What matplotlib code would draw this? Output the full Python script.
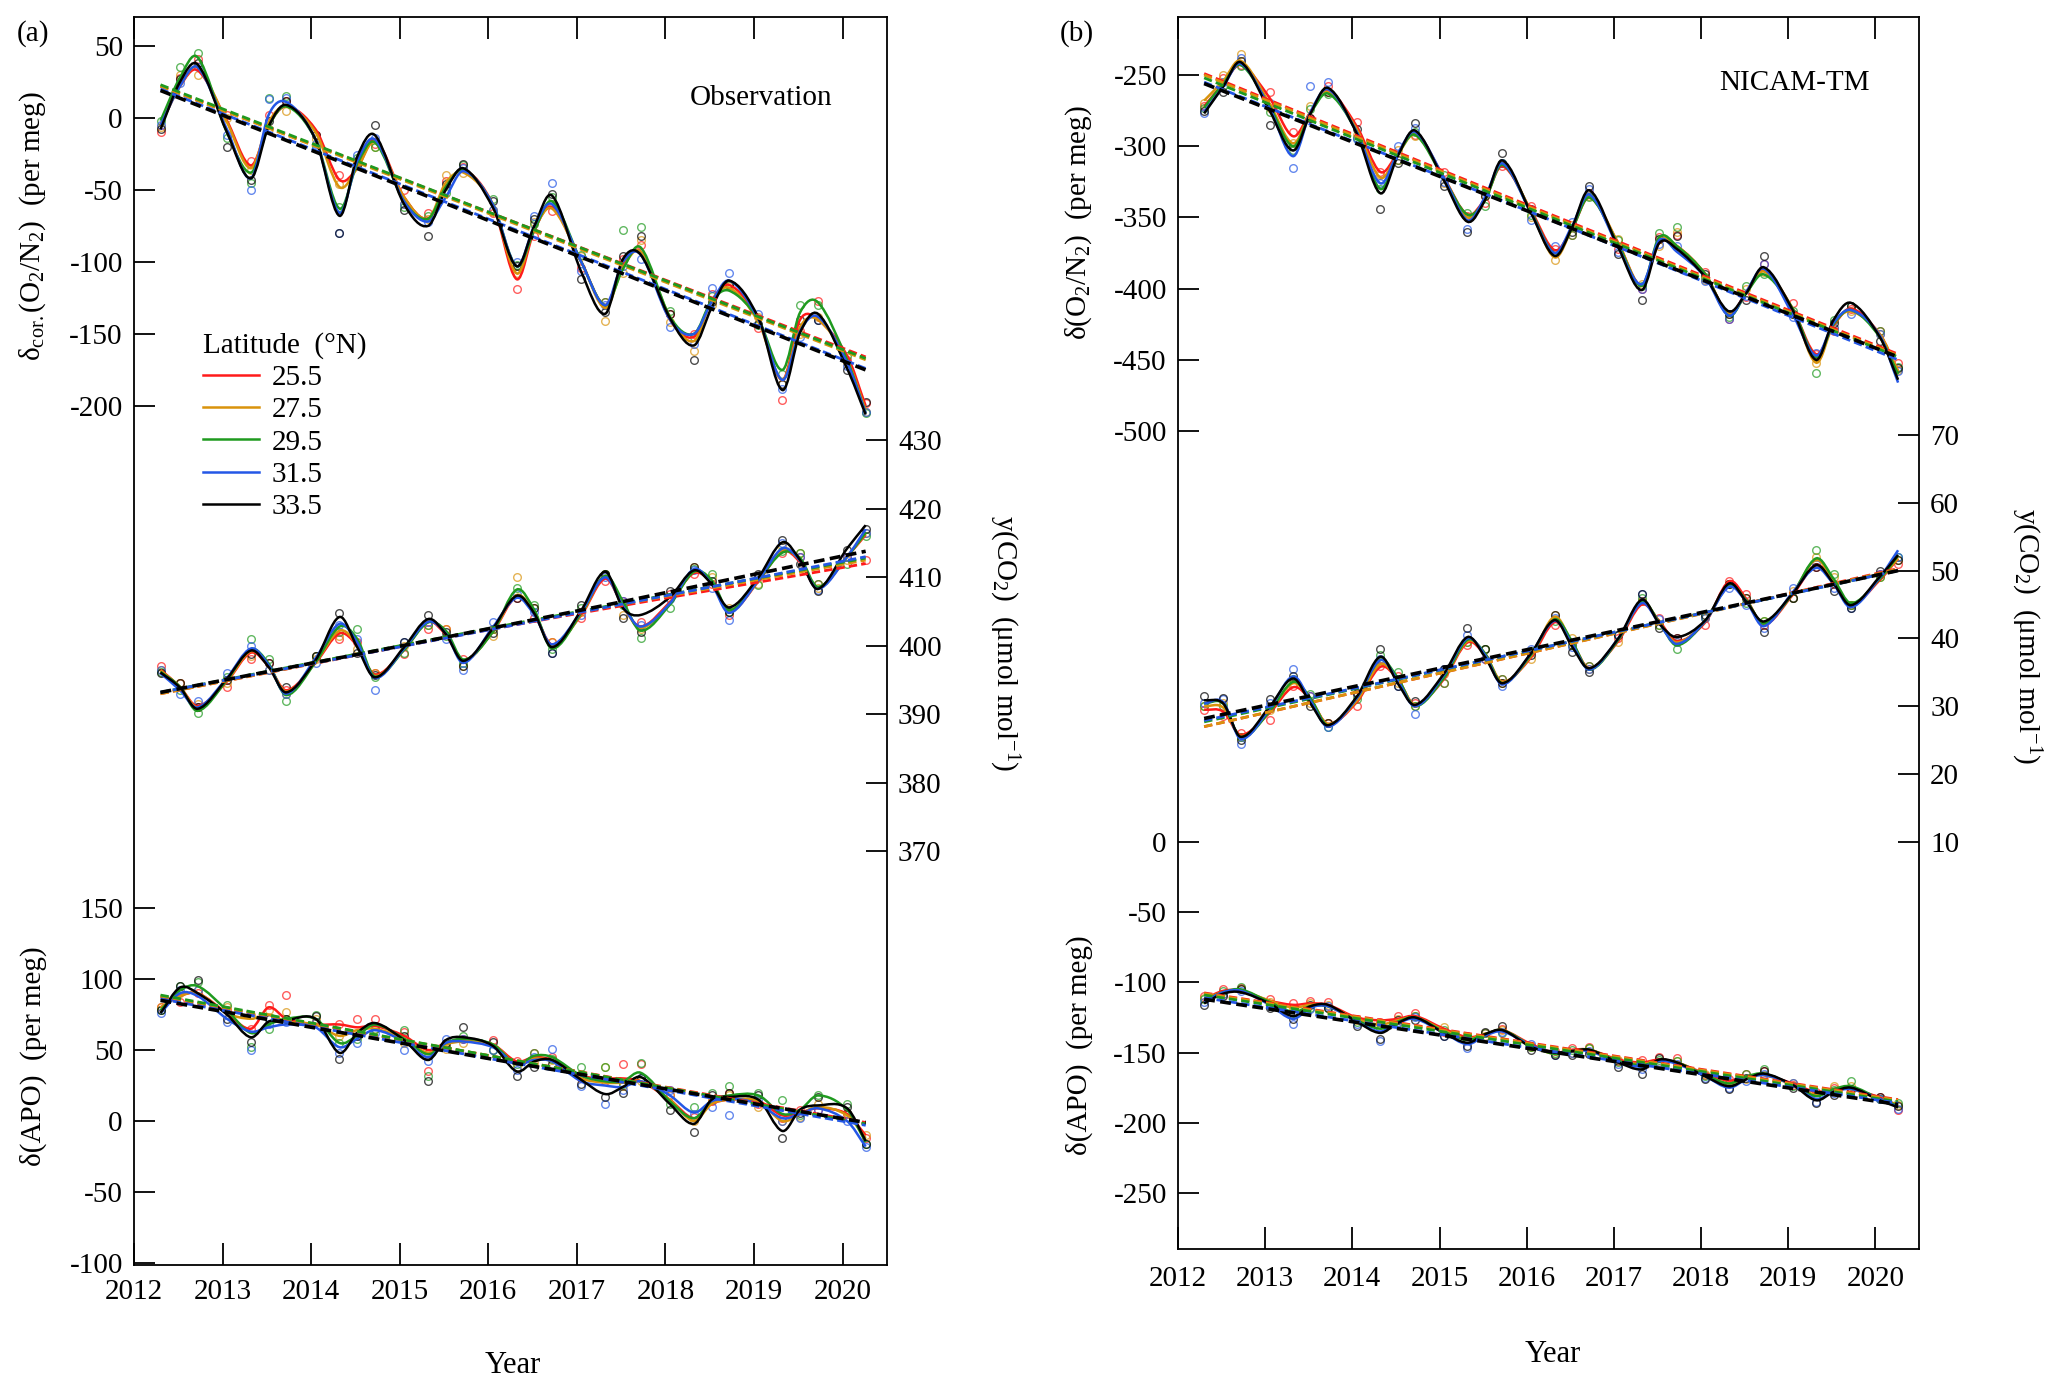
import numpy as np
import matplotlib
matplotlib.use("Agg")
import matplotlib.pyplot as plt
from matplotlib.path import Path
from matplotlib.patches import PathPatch
from matplotlib.lines import Line2D

plt.rcParams['font.family'] = ['Liberation Serif', 'DejaVu Serif']
plt.rcParams['mathtext.fontset'] = 'custom'
plt.rcParams['mathtext.rm'] = 'Liberation Serif'
plt.rcParams['mathtext.it'] = 'Liberation Serif:italic'
plt.rcParams['mathtext.bf'] = 'Liberation Serif:bold'
plt.rcParams['axes.unicode_minus'] = False

latitudes = ['25.5', '27.5', '29.5', '31.5', '33.5']
colors = ['#ff1a1a', '#d9930c', '#1f9a1f', '#2457e6', '#000000']

# knot times of the smooth fitted curves (decimal year)
t_knots = [2012.30, 2012.52, 2012.72,
           2013.05, 2013.32, 2013.52, 2013.72,
           2014.05, 2014.32, 2014.52, 2014.72,
           2015.05, 2015.32, 2015.52, 2015.72,
           2016.05, 2016.32, 2016.52, 2016.72,
           2017.05, 2017.32, 2017.52, 2017.72,
           2018.05, 2018.32, 2018.52, 2018.72,
           2019.05, 2019.32, 2019.52, 2019.72,
           2020.05, 2020.26]
# times of the plotted monthly values (circles)
t_obs = [2012.30, 2012.72, 2013.32, 2013.72, 2014.32, 2014.72, 2015.32, 2015.72,
         2016.32, 2016.72, 2017.32, 2017.72, 2018.32, 2018.72, 2019.32, 2019.72,
         2020.05, 2020.26]
t_obs_mid = [2012.52, 2013.05, 2013.52, 2014.05, 2014.52, 2015.05, 2015.52, 2016.05,
             2016.52, 2017.05, 2017.52, 2018.05, 2018.52, 2019.05, 2019.52]
# times of the long-term trend lines
t_trend = [2012.30, 2016.28, 2020.26]

# ---- (a) Observation ----
o2_obs_curve = [
    [-5, 22, 33, -2, -33, -5, 8, -8, -43, -35, -15, -55, -70, -48, -36, -60, -112, -78, -62, -100, -130, -102, -93, -140, -152, -127, -116, -140, -182, -140, -140, -165, -200],
    [-5, 22, 35, -3, -35, -3, 8, -10, -48, -35, -17, -55, -70, -45, -38, -60, -108, -77, -63, -100, -132, -104, -93, -138, -155, -127, -118, -142, -182, -145, -140, -168, -203],
    [-2, 28, 42, -10, -38, -6, 8, -15, -63, -32, -17, -58, -70, -48, -36, -60, -103, -78, -58, -100, -130, -105, -90, -138, -150, -127, -120, -140, -175, -135, -128, -168, -205],
    [-5, 22, 35, -8, -42, 2, 11, -15, -66, -30, -15, -58, -72, -55, -37, -60, -103, -75, -60, -100, -130, -100, -95, -140, -150, -128, -113, -140, -182, -148, -138, -170, -205],
    [-8, 25, 37, -10, -42, -6, 9, -15, -68, -27, -12, -60, -75, -50, -35, -62, -103, -75, -54, -107, -136, -98, -95, -139, -158, -132, -113, -139, -189, -149, -136, -174, -206],
]
o2_obs_points = [
    [-10, 41, -30, 12, -40, -18, -66, -34, -119, -65, -128, -88, -150, -115, -196, -127, -168, -198],
    [-6, 30, -36, 5, -46, -20, -70, -38, -108, -60, -141, -85, -162, -117, -185, -138, -170, -204],
    [-2, 45, -45, 15, -62, -20, -68, -33, -102, -55, -128, -76, -152, -116, -178, -130, -165, -205],
    [-5, 35, -50, 14, -80, -14, -72, -35, -100, -45, -130, -98, -157, -108, -188, -140, -172, -204],
    [-8, 38, -43, 12, -80, -5, -82, -32, -103, -53, -135, -82, -168, -115, -185, -140, -175, -197],
]
o2_obs_points_mid = [
    [28, 2, 2, -12, -30, -50, -44, -66, -82, -104, -98, -136, -122, -146, -148],
    [30, 0, -8, -15, -32, -60, -40, -64, -72, -96, -108, -142, -130, -138, -150],
    [35, -14, 14, -20, -28, -62, -52, -56, -74, -95, -78, -134, -124, -144, -130],
    [24, -12, 13, -18, -26, -60, -50, -64, -68, -106, -103, -145, -118, -136, -152],
    [27, -20, -2, -12, -33, -64, -46, -58, -70, -112, -96, -136, -128, -143, -140],
]
o2_obs_trend = [[22, -72, -166], [22, -73, -168], [23, -72, -167], [20, -77, -174], [19, -78, -175]]

co2_obs_curve = [
    [396.5, 394.0, 391.2, 394.8, 399.0, 397.0, 393.5, 397.5, 401.8, 400.0, 395.8, 399.4, 403.5, 401.6, 397.9, 402.0, 407.2, 404.6, 400.2, 404.5, 409.8, 405.8, 402.8, 406.4, 410.6, 409.2, 405.0, 409.4, 413.8, 412.2, 408.4, 413.0, 416.2],
    [396.4, 394.0, 391.0, 394.9, 399.2, 397.1, 393.3, 397.6, 402.2, 400.2, 395.6, 399.5, 403.6, 401.8, 397.8, 402.1, 407.4, 404.8, 400.0, 404.6, 410.2, 405.8, 402.6, 406.2, 410.8, 409.2, 405.0, 409.5, 414.0, 412.4, 408.4, 413.0, 416.4],
    [396.2, 394.0, 390.5, 395.0, 399.5, 397.4, 392.8, 397.6, 402.8, 401.0, 395.5, 399.4, 403.4, 402.2, 398.0, 402.0, 408.2, 405.2, 399.6, 404.8, 410.2, 406.5, 402.2, 406.0, 410.8, 409.6, 405.2, 409.6, 413.6, 412.8, 408.6, 413.0, 416.5],
    [396.0, 393.5, 391.0, 395.3, 399.6, 397.2, 393.0, 398.2, 403.2, 400.5, 395.3, 399.6, 403.5, 401.8, 397.5, 402.7, 407.0, 404.5, 400.2, 405.0, 410.0, 405.8, 402.8, 406.2, 411.2, 409.0, 404.8, 409.6, 414.2, 412.4, 408.3, 413.0, 417.0],
    [396.1, 393.9, 390.8, 395.2, 399.3, 396.9, 393.2, 397.9, 404.2, 399.8, 395.4, 399.8, 403.9, 401.7, 397.8, 402.5, 407.3, 404.7, 399.8, 405.2, 410.8, 405.5, 404.5, 407.1, 411.0, 409.0, 405.6, 410.0, 415.1, 412.5, 408.3, 414.2, 417.6],
]
co2_obs_points = [
    [397.0, 391.0, 398.0, 393.5, 401.0, 396.0, 402.5, 398.0, 407.0, 400.5, 409.5, 403.5, 410.5, 404.5, 413.5, 409.0, 413.0, 412.5],
    [396.5, 391.5, 398.5, 393.0, 401.5, 396.0, 403.0, 397.0, 410.0, 400.5, 410.5, 402.5, 411.5, 405.5, 414.5, 408.5, 412.5, 416.5],
    [396.2, 390.2, 401.0, 392.0, 402.0, 395.5, 403.0, 397.5, 408.5, 399.5, 410.5, 401.2, 411.2, 405.0, 413.8, 409.0, 412.0, 416.0],
    [396.5, 392.0, 400.0, 393.0, 403.0, 393.5, 403.5, 396.5, 407.5, 399.0, 410.0, 403.0, 411.0, 403.8, 415.0, 408.2, 413.0, 416.5],
    [396.0, 391.0, 398.8, 394.0, 404.8, 395.8, 404.5, 397.0, 407.0, 399.0, 410.5, 402.0, 411.5, 405.0, 415.5, 408.0, 414.0, 417.0],
]
co2_obs_points_mid = [
    [394.5, 394.0, 397.5, 398.5, 400.5, 398.8, 402.5, 402.5, 404.0, 404.0, 406.5, 407.5, 409.0, 410.0, 413.0],
    [394.5, 394.5, 396.5, 398.0, 399.5, 400.0, 402.5, 401.5, 405.5, 405.0, 404.5, 407.0, 410.0, 409.0, 413.5],
    [393.5, 395.5, 398.0, 398.5, 402.5, 399.0, 401.5, 402.5, 406.0, 405.5, 406.0, 405.5, 410.5, 408.8, 413.5],
    [393.0, 396.0, 396.5, 397.5, 401.0, 400.5, 401.0, 403.5, 405.0, 404.5, 406.5, 406.8, 408.5, 410.2, 413.0],
    [394.5, 395.0, 397.5, 398.5, 399.0, 400.5, 402.0, 401.8, 405.5, 406.0, 404.0, 408.0, 409.5, 410.5, 412.0],
]
co2_obs_trend = [[393.0, 403.0, 412.0], [393.0, 403.1, 412.5], [393.2, 403.2, 412.8], [393.2, 403.0, 413.0], [393.2, 403.2, 413.8]]

apo_obs_curve = [
    [80, 88, 90, 76, 65, 80, 72, 68, 68, 66, 67, 60, 50, 55, 57, 54, 42, 45, 43, 32, 30, 30, 28, 15, 2, 12, 15, 14, 4, 6, 9, 5, -10],
    [80, 88, 90, 76, 72, 75, 70, 68, 60, 64, 65, 58, 48, 54, 56, 54, 40, 44, 42, 30, 27, 27, 28, 15, 0, 12, 15, 14, 0, 5, 10, 4, -12],
    [78, 92, 95, 78, 62, 68, 72, 72, 55, 60, 68, 58, 47, 55, 58, 54, 40, 46, 45, 32, 28, 28, 34, 14, 2, 14, 18, 18, 5, 8, 18, 8, -15],
    [76, 90, 88, 72, 63, 66, 68, 66, 52, 58, 64, 56, 45, 55, 56, 52, 40, 43, 42, 28, 25, 24, 28, 18, 6, 14, 16, 12, 2, 5, 9, 0, -18],
    [76, 94, 90, 75, 59, 70, 71, 72, 48, 62, 69, 57, 43, 57, 59, 53, 35, 42, 43, 29, 19, 24, 31, 12, -2, 15, 17, 15, -7, 8, 11, 9, -14],
]
apo_obs_points = [
    [80, 90, 65, 89, 68, 72, 35, 58, 42, 45, 28, 40, 3, 20, 2, 8, 5, -12],
    [80, 92, 75, 77, 60, 65, 47, 55, 38, 43, 38, 28, 0, 18, 0, 12, 6, -10],
    [78, 98, 52, 72, 55, 65, 32, 60, 40, 44, 38, 41, 10, 25, 15, 18, 12, -16],
    [76, 92, 50, 70, 48, 62, 42, 58, 36, 51, 12, 30, 5, 4, 0, 8, 0, -18],
    [78, 99, 56, 72, 44, 67, 28, 66, 32, 40, 17, 30, -8, 20, -12, 17, 10, -16],
]
apo_obs_points_mid = [
    [84, 78, 82, 70, 72, 63, 52, 57, 48, 30, 40, 18, 14, 12, 8],
    [90, 80, 78, 72, 62, 55, 51, 50, 41, 33, 25, 18, 15, 10, 3],
    [95, 82, 65, 75, 58, 64, 52, 50, 48, 38, 26, 12, 20, 20, 4],
    [92, 70, 68, 70, 55, 50, 58, 50, 45, 25, 22, 22, 10, 15, 2],
    [95, 72, 72, 74, 60, 60, 55, 56, 38, 26, 20, 8, 18, 18, 6],
]
apo_obs_trend = [[87.5, 43, -1], [88, 43, -2], [88.7, 43, -2], [86, 41, -3], [85, 41, -1]]

# ---- (b) NICAM-TM ----
o2_mod_curve = [
    [-272, -256, -243, -266, -293, -276, -261, -286, -318, -305, -290, -322, -348, -337, -314, -345, -373, -358, -336, -368, -398, -368, -370, -390, -418, -402, -387, -414, -446, -426, -414, -432, -458],
    [-268, -254, -240, -270, -298, -276, -262, -288, -322, -306, -292, -322, -350, -338, -312, -346, -378, -358, -335, -368, -398, -366, -370, -390, -418, -403, -388, -414, -452, -425, -416, -432, -458],
    [-273, -256, -243, -272, -300, -277, -263, -290, -330, -306, -292, -323, -348, -338, -313, -346, -375, -358, -336, -369, -398, -364, -370, -390, -419, -403, -390, -414, -448, -425, -415, -434, -460],
    [-276, -258, -242, -273, -307, -276, -260, -290, -326, -305, -290, -322, -352, -336, -312, -347, -375, -356, -334, -371, -397, -366, -374, -392, -419, -402, -386, -418, -447, -424, -415, -433, -466],
    [-277, -258, -241, -275, -303, -277, -259, -291, -333, -307, -289, -324, -353, -338, -310, -347, -377, -357, -331, -371, -401, -368, -372, -392, -416, -403, -385, -415, -450, -422, -410, -434, -464],
]
o2_mod_points = [
    [-272, -243, -290, -258, -318, -292, -349, -314, -372, -333, -400, -362, -421, -383, -446, -414, -430, -452],
    [-270, -235, -298, -262, -320, -293, -350, -312, -380, -335, -397, -360, -418, -388, -452, -416, -432, -457],
    [-273, -244, -303, -263, -330, -290, -347, -312, -375, -336, -398, -357, -420, -390, -459, -412, -430, -455],
    [-277, -238, -315, -255, -326, -287, -358, -312, -370, -330, -400, -370, -421, -383, -445, -418, -432, -458],
    [-275, -240, -300, -262, -344, -284, -360, -305, -375, -328, -408, -363, -418, -377, -448, -412, -437, -456],
]
o2_mod_points_mid = [
    [-252, -262, -280, -283, -310, -318, -340, -342, -362, -372, -364, -388, -406, -410, -430],
    [-250, -273, -272, -292, -303, -326, -335, -350, -355, -365, -370, -394, -400, -418, -428],
    [-258, -276, -274, -294, -310, -320, -342, -348, -362, -366, -361, -392, -398, -416, -422],
    [-255, -270, -258, -295, -300, -325, -332, -352, -353, -374, -369, -395, -405, -420, -428],
    [-262, -285, -280, -288, -312, -328, -335, -344, -360, -376, -365, -390, -408, -418, -424],
]
o2_mod_trend = [[-249, -348, -446], [-250, -349, -447], [-252, -350, -448], [-255, -352, -450], [-256, -352, -448]]

co2_mod_curve = [
    [29.5, 29.2, 25.8, 29.0, 32.8, 31.0, 27.4, 30.6, 35.8, 34.0, 30.2, 34.0, 39.4, 37.6, 33.6, 37.2, 42.4, 39.4, 35.6, 39.6, 45.0, 42.6, 39.6, 42.4, 48.4, 45.8, 42.0, 46.4, 50.8, 48.4, 45.0, 48.6, 51.8],
    [30.0, 29.8, 25.6, 29.2, 33.4, 31.0, 27.4, 30.8, 36.2, 34.0, 30.2, 34.2, 39.6, 37.8, 33.6, 37.4, 43.2, 39.4, 35.6, 39.8, 45.4, 42.4, 39.4, 42.6, 47.8, 45.6, 42.2, 46.6, 51.6, 48.4, 45.0, 48.8, 51.8],
    [30.4, 30.4, 25.4, 29.2, 33.6, 31.2, 27.2, 31.2, 36.8, 34.2, 30.0, 34.2, 39.8, 37.8, 33.4, 37.6, 42.8, 39.6, 35.4, 39.8, 45.4, 42.4, 39.0, 42.6, 47.8, 45.6, 42.2, 46.6, 51.8, 48.8, 45.2, 48.8, 52.2],
    [30.4, 30.6, 25.2, 29.6, 34.4, 30.8, 27.0, 31.2, 36.8, 33.8, 30.0, 34.6, 40.0, 37.6, 33.2, 37.8, 42.6, 39.2, 35.4, 40.0, 45.2, 42.2, 39.2, 42.6, 47.6, 45.4, 41.8, 46.8, 50.4, 48.0, 44.6, 49.0, 53.0],
    [30.9, 30.4, 25.5, 29.9, 34.1, 30.4, 27.2, 31.4, 37.3, 33.4, 30.2, 34.8, 40.2, 37.3, 33.4, 37.8, 42.7, 38.8, 35.6, 40.0, 45.7, 42.2, 40.2, 42.7, 48.1, 45.4, 42.5, 46.6, 50.8, 48.1, 44.9, 49.1, 52.3],
]
co2_mod_points = [
    [29.5, 26.0, 33.0, 27.5, 36.0, 30.5, 39.0, 34.0, 42.0, 36.0, 45.5, 40.0, 48.5, 42.0, 50.5, 45.0, 49.5, 51.0],
    [30.0, 25.5, 33.5, 27.5, 36.5, 30.0, 39.5, 33.5, 43.5, 35.5, 45.5, 39.5, 48.0, 42.5, 52.0, 45.0, 49.0, 51.5],
    [30.0, 25.5, 34.0, 27.0, 37.5, 30.0, 39.5, 34.0, 42.5, 36.0, 46.0, 38.5, 48.0, 42.5, 53.0, 45.0, 49.0, 52.0],
    [30.5, 24.5, 35.5, 27.0, 37.0, 28.8, 40.5, 33.0, 43.0, 35.5, 46.5, 39.5, 47.5, 41.5, 51.0, 44.5, 49.5, 52.0],
    [31.5, 25.0, 34.5, 27.5, 38.5, 30.8, 41.5, 33.5, 43.5, 35.0, 46.5, 40.0, 48.0, 41.0, 50.5, 44.5, 50.0, 51.5],
]
co2_mod_points_mid = [
    [28.5, 28.0, 31.5, 30.0, 34.5, 33.5, 37.0, 38.0, 39.0, 40.0, 43.0, 42.0, 46.5, 46.0, 48.0],
    [30.5, 29.5, 30.5, 31.5, 33.5, 34.8, 38.5, 37.0, 40.0, 39.5, 42.0, 43.0, 46.0, 47.0, 49.0],
    [30.0, 29.8, 31.8, 31.0, 35.0, 33.5, 38.5, 38.2, 39.0, 40.5, 42.0, 43.2, 45.2, 46.0, 49.5],
    [31.0, 30.5, 31.5, 31.8, 33.0, 35.5, 37.0, 38.5, 38.8, 40.5, 42.8, 43.0, 45.0, 47.5, 47.5],
    [31.2, 31.0, 30.0, 32.0, 33.0, 35.5, 38.5, 37.5, 38.0, 40.5, 41.5, 43.5, 46.0, 46.0, 47.0],
]
co2_mod_trend = [[27.0, 38.6, 50.3], [27.0, 38.6, 50.2], [27.7, 38.9, 50.0], [27.9, 38.9, 50.0], [28.2, 39.1, 50.0]]

apo_mod_curve = [
    [-112, -106, -106, -113, -116, -115, -116, -125, -127, -126, -124, -133, -139, -137, -134, -144, -150, -148, -148, -155, -157, -155, -157, -165, -170, -167, -166, -172, -178, -176, -176, -182, -188],
    [-112, -107, -106, -113, -118, -116, -117, -126, -130, -127, -125, -134, -140, -137, -134, -145, -151, -149, -148, -156, -158, -156, -157, -166, -172, -168, -166, -173, -180, -176, -176, -183, -187],
    [-113, -107, -105, -114, -121, -117, -117, -127, -133, -128, -125, -135, -141, -137, -134, -145, -151, -149, -148, -156, -159, -156, -157, -166, -172, -167, -165, -173, -181, -176, -174, -183, -188],
    [-114, -107, -106, -116, -126, -118, -117, -128, -135, -129, -126, -136, -144, -138, -135, -145, -150, -149, -149, -157, -160, -156, -158, -167, -175, -169, -166, -173, -183, -178, -176, -183, -189],
    [-115, -108, -107, -115, -124, -117, -116, -128, -136, -129, -125, -136, -143, -137, -134, -146, -150, -149, -148, -157, -162, -155, -157, -167, -174, -169, -165, -173, -184, -178, -175, -184, -189],
]
apo_mod_points = [
    [-110, -104, -115, -114, -128, -122, -138, -133, -149, -146, -155, -154, -169, -163, -178, -176, -182, -191],
    [-111, -105, -118, -116, -130, -124, -140, -134, -151, -147, -158, -156, -171, -166, -180, -174, -183, -187],
    [-112, -103, -122, -118, -133, -124, -141, -136, -150, -147, -158, -156, -172, -162, -181, -170, -183, -186],
    [-114, -106, -130, -117, -142, -125, -147, -135, -152, -149, -162, -158, -175, -165, -185, -177, -183, -190],
    [-116, -105, -126, -118, -140, -127, -145, -131, -152, -151, -165, -160, -176, -163, -186, -176, -182, -188],
]
apo_mod_points_mid = [
    [-105, -112, -113, -126, -124, -135, -136, -145, -147, -156, -153, -166, -165, -173, -175],
    [-108, -114, -115, -127, -126, -132, -138, -146, -150, -155, -157, -165, -169, -172, -174],
    [-106, -116, -118, -128, -129, -134, -136, -146, -148, -157, -155, -167, -165, -174, -177],
    [-108, -117, -119, -130, -128, -138, -139, -144, -150, -158, -157, -168, -170, -172, -179],
    [-110, -118, -116, -131, -127, -138, -135, -148, -152, -160, -154, -169, -168, -175, -180],
]
apo_mod_trend = [[-107.5, -145.5, -183.5], [-108, -146, -184], [-109, -147, -185], [-111, -149, -186], [-112, -149.5, -187]]

years = list(range(2012, 2021))


def smooth_path(t, y):
    # cubic Bezier path through the read values (drawn by matplotlib)
    t = np.asarray(t, float)
    y = np.asarray(y, float)
    m = np.empty(len(t))
    m[1:-1] = (y[2:] - y[:-2]) / (t[2:] - t[:-2])
    m[0] = (y[1] - y[0]) / (t[1] - t[0])
    m[-1] = (y[-1] - y[-2]) / (t[-1] - t[-2])
    verts = [(t[0], y[0])]
    codes = [Path.MOVETO]
    for i in range(len(t) - 1):
        h = t[i + 1] - t[i]
        verts += [(t[i] + h / 3, y[i] + m[i] * h / 3),
                  (t[i + 1] - h / 3, y[i + 1] - m[i + 1] * h / 3),
                  (t[i + 1], y[i + 1])]
        codes += [Path.CURVE4] * 3
    return Path(verts, codes)


def draw_group(ax, curves, points, points_mid, trends):
    for c, p, pm in zip(colors, points, points_mid):
        ax.plot(t_obs, p, 'o', ms=5.5, mfc='none', mec=c, mew=1.0, alpha=0.7, zorder=2)
        ax.plot(t_obs_mid, pm, 'o', ms=5.5, mfc='none', mec=c, mew=1.0, alpha=0.7, zorder=2)
    for c, cv in zip(colors, curves):
        ax.add_patch(PathPatch(smooth_path(t_knots, cv), fill=False, edgecolor=c,
                               lw=1.8, zorder=3))
    for c, tr in zip(colors, trends):
        ax.add_patch(PathPatch(smooth_path(t_trend, tr), fill=False, edgecolor=c,
                               lw=2.6 if c == '#000000' else 2.0,
                               linestyle=(0, (3, 1.5)), zorder=4))


def make_panel(rect, o2, co2, apo, lims, ticks, xpad):
    ax = fig.add_axes(rect)
    ax_apo = fig.add_axes(rect, sharex=ax)
    ax_co2 = fig.add_axes(rect, sharex=ax)
    for a in (ax_apo, ax_co2):
        a.patch.set_visible(False)
        for s in a.spines.values():
            s.set_visible(False)
        a.tick_params(axis='x', which='both', bottom=False, top=False, labelbottom=False)
    for s in ax.spines.values():
        s.set_linewidth(1.3)
    ax_co2.yaxis.tick_right()

    ax.set_xlim(2012, 2020.5)
    ax.set_xticks(years)
    ax.tick_params(axis='x', direction='in', top=True, length=16, width=1.3,
                   labelsize=21, pad=xpad)
    for a, lim, tk in zip((ax, ax_co2, ax_apo), lims, ticks):
        a.set_ylim(*lim)
        a.set_yticks(tk)
        a.tick_params(axis='y', direction='in', length=15, width=1.3, labelsize=21, pad=8)

    draw_group(ax, *o2)
    draw_group(ax_co2, *co2)
    draw_group(ax_apo, *apo)
    return ax_co2


fig = plt.figure(figsize=(20.67, 13.98), dpi=100)

top_a = make_panel([0.0648, 0.0951, 0.3643, 0.8928],
                   (o2_obs_curve, o2_obs_points, o2_obs_points_mid, o2_obs_trend),
                   (co2_obs_curve, co2_obs_points, co2_obs_points_mid, co2_obs_trend),
                   (apo_obs_curve, apo_obs_points, apo_obs_points_mid, apo_obs_trend),
                   [(-796.5, 70.1), (309.6, 491.8), (-101.4, 777.5)],
                   [[-200, -150, -100, -50, 0, 50],
                    [370, 380, 390, 400, 410, 420, 430],
                    [-100, -50, 0, 50, 100, 150]], 10)

make_panel([0.5699, 0.1066, 0.3585, 0.8812],
           (o2_mod_curve, o2_mod_points, o2_mod_points_mid, o2_mod_trend),
           (co2_mod_curve, co2_mod_points, co2_mod_points_mid, co2_mod_trend),
           (apo_mod_curve, apo_mod_points, apo_mod_points_mid, apo_mod_trend),
           [(-1074.4, -209.3), (-50.0, 131.6), (-289.9, 587.6)],
           [[-500, -450, -400, -350, -300, -250],
            [10, 20, 30, 40, 50, 60, 70],
            [-250, -200, -150, -100, -50, 0]], 12)

# legend
handles = [Line2D([], [], color=c, lw=1.8) for c in colors]
leg = top_a.legend(handles, latitudes, title='Latitude  (\u00b0N)', loc='upper left',
                   bbox_to_anchor=(0.0913, 0.773), bbox_transform=fig.transFigure,
                   frameon=False, fontsize=21, title_fontsize=21, borderpad=0,
                   handlelength=1.9, handletextpad=0.45, labelspacing=0.2,
                   alignment='left')

# panel text
fig.text(0.0082, 0.976, '(a)', fontsize=21, ha='left', va='center')
fig.text(0.5128, 0.976, '(b)', fontsize=21, ha='left', va='center')
fig.text(0.4025, 0.930, 'Observation', fontsize=21, ha='right', va='center')
fig.text(0.9047, 0.9406, 'NICAM-TM', fontsize=21, ha='right', va='center')

fig.text(0.016, 0.838, '\u03b4$_{\\mathrm{cor.}}$(O$_2$/N$_2$)  (per meg)', fontsize=21,
         rotation=90, ha='center', va='center')
fig.text(0.016, 0.2446, '\u03b4(APO)  (per meg)', fontsize=21,
         rotation=90, ha='center', va='center')
fig.text(0.486, 0.540, 'y(CO$_2$)  (\u03bcmol mol$^{-1}$)', fontsize=21,
         rotation=270, ha='center', va='center')

fig.text(0.522, 0.841, '\u03b4(O$_2$/N$_2$)  (per meg)', fontsize=21,
         rotation=90, ha='center', va='center')
fig.text(0.522, 0.2525, '\u03b4(APO)  (per meg)', fontsize=21,
         rotation=90, ha='center', va='center')
fig.text(0.980, 0.545, 'y(CO$_2$)  (\u03bcmol mol$^{-1}$)', fontsize=21,
         rotation=270, ha='center', va='center')

fig.text(0.2482, 0.0229, 'Year', fontsize=22, ha='center', va='center')
fig.text(0.7513, 0.0308, 'Year', fontsize=22, ha='center', va='center')

fig.savefig('out.png', dpi=100)
